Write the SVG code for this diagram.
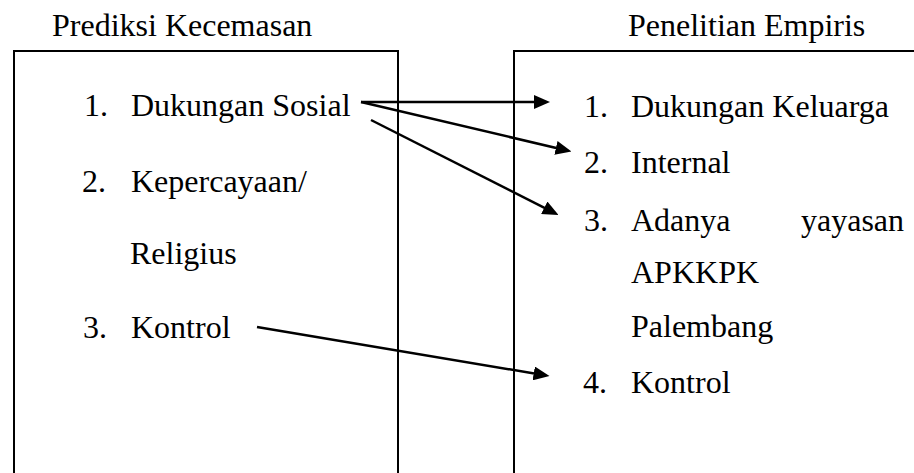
<svg xmlns="http://www.w3.org/2000/svg" width="914" height="473" viewBox="0 0 914 473">
<defs>
<style>
.box { fill: none; stroke: #000; stroke-width: 2; }
.conn { fill: none; stroke: #000; stroke-width: 2.5; marker-end: url(#arrow); }
</style>
<marker id="arrow" markerUnits="userSpaceOnUse" markerWidth="16" markerHeight="14" refX="8" refY="7" orient="auto">
<path d="M0,0 L16,7 L0,14 z" fill="#000"/>
</marker>
</defs>
<rect width="914" height="473" fill="#fff"/>
<g font-family="'Liberation Serif', 'Times New Roman', 'DejaVu Serif', serif" font-size="32" fill="#000">
<g id="prediksi">
<text x="52" y="36">Prediksi Kecemasan</text>
<rect class="box" x="14" y="51" width="384" height="440"/>
<text x="84" y="116">1.</text><text x="131" y="116">Dukungan Sosial</text>
<text x="82" y="192">2.</text><text x="131" y="192">Kepercayaan/</text>
<text x="130" y="264">Religius</text>
<text x="83" y="338">3.</text><text x="131" y="338">Kontrol</text>
</g>
<g id="empiris">
<text x="628" y="36">Penelitian Empiris</text>
<rect class="box" x="514" y="51" width="420" height="440"/>
<text x="584" y="117">1.</text><text x="631" y="117">Dukungan Keluarga</text>
<text x="584" y="173">2.</text><text x="631" y="173">Internal</text>
<text x="584" y="231">3.</text><text y="231"><tspan x="631">Adanya</tspan><tspan x="801">yayasan</tspan></text>
<text x="631" y="283">APKKPK</text>
<text x="631" y="337">Palembang</text>
<text x="583" y="393">4.</text><text x="631" y="393">Kontrol</text>
</g>
</g>
<g id="connectors">
<line class="conn" x1="361" y1="102" x2="542" y2="102"/>
<line class="conn" x1="361" y1="102" x2="563.7" y2="149.7"/>
<line class="conn" x1="371" y1="120" x2="551.4" y2="211.4"/>
<line class="conn" x1="257" y1="327" x2="541.6" y2="374.7"/>
</g>
</svg>
